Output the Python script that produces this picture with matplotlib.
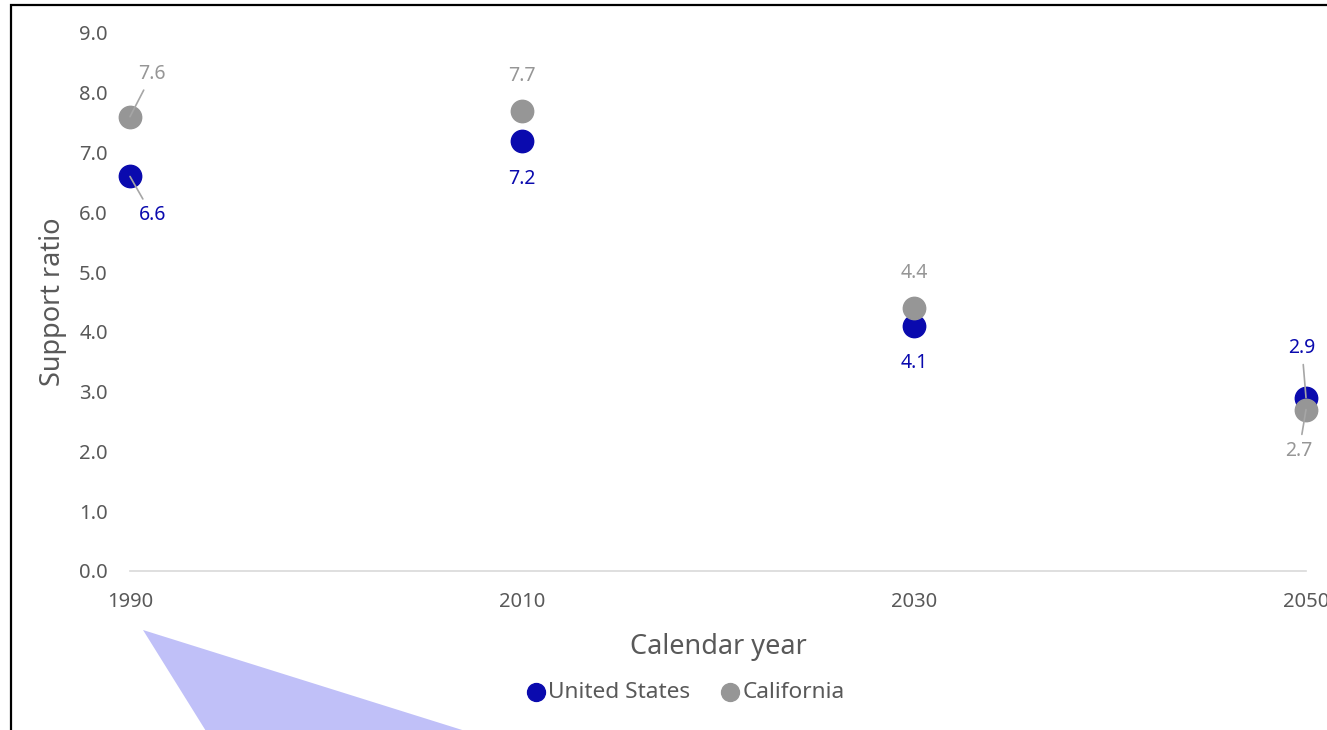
import matplotlib.pyplot as plt
from matplotlib.patches import Polygon, Rectangle

# ---- data ----
years = [1990, 2010, 2030, 2050]
us_ratio = [6.6, 7.2, 4.1, 2.9]
ca_ratio = [7.6, 7.7, 4.4, 2.7]

BLUE = '#0A0AAE'
GREY = '#969696'
TXT = '#595959'

plt.rcParams['font.family'] = ['Noto Sans', 'DejaVu Sans']

W, H = 1327, 730
fig = plt.figure(figsize=(W / 100, H / 100), dpi=100)
ax = fig.add_axes([130 / W, 1 - 571 / H, (1306 - 130) / W, (571 - 33) / H])

ax.scatter(years, us_ratio, s=260, color=BLUE, zorder=3, clip_on=False, label='United States')
ax.scatter(years, ca_ratio, s=260, color=GREY, zorder=4, clip_on=False, label='California')

# data labels (offsets in points), leader lines where labels were pulled aside
us_off = [(16, -28), (0, -28), (0, -27), (-3, 36)]
ca_off = [(16, 31), (0, 25), (0, 25), (-5, -30)]
leader = [True, False, False, True]
for x, u, c, uo, co, ld in zip(years, us_ratio, ca_ratio, us_off, ca_off, leader):
    for val, off, col in ((u, uo, BLUE), (c, co, GREY)):
        kw = {}
        if ld:
            kw['arrowprops'] = dict(arrowstyle='-', color='#A6A6A6', lw=1.2,
                                    shrinkA=3, shrinkB=0)
        ax.annotate(f'{val:.1f}', (x, val), xytext=off, textcoords='offset points',
                    ha='center', va='center', fontsize=14, color=col,
                    annotation_clip=False, zorder=5, **kw)

ax.set_xlim(1990, 2050)
ax.set_ylim(0, 9)
ax.set_xticks(years)
ax.set_yticks([i for i in range(10)])
ax.set_yticklabels([f'{i:.1f}' for i in range(10)])
ax.tick_params(axis='both', length=0, labelsize=14.5, colors=TXT)
ax.tick_params(axis='y', pad=16)
ax.tick_params(axis='x', pad=15)
for s in ['top', 'right', 'left']:
    ax.spines[s].set_visible(False)
ax.spines['bottom'].set_color('#D9D9D9')
ax.spines['bottom'].set_linewidth(1.2)

ax.set_ylabel('Support ratio', fontsize=19.5, color=TXT, labelpad=9)
ax.set_xlabel('Calendar year', fontsize=19.5, color=TXT, labelpad=15)

leg = ax.legend(loc='center', bbox_to_anchor=(0.472, 1 - (692 - 33) / 538),
                ncol=2, frameon=False, fontsize=16.3, handletextpad=0.1,
                handlelength=0.9, columnspacing=1.3, markerscale=0.8, borderaxespad=0)
for t in leg.get_texts():
    t.set_color(TXT)

# outer frame (right/bottom edges cropped off)
fig.patches.append(Rectangle((11 / W, -0.1), 1.2, 1 - 5 / H + 0.1, transform=fig.transFigure,
                             fill=False, edgecolor='black', lw=1.6))

# stray callout shape at the bottom
tri = [(143 / W, 1 - 630 / H), (224 / W, 1 - 760 / H), (558 / W, 1 - 760 / H)]
fig.patches.append(Polygon(tri, closed=True, transform=fig.transFigure,
                           facecolor='#C0C0F8', edgecolor='none'))

fig.savefig('out.png', dpi=100)
